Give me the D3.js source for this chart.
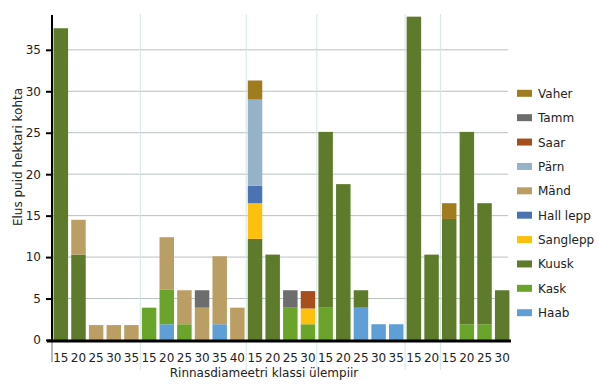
<!DOCTYPE html>
<html>
<head>
<meta charset="utf-8">
<script src="https://cdn.jsdelivr.net/npm/d3@7"></script>
<style>
  body { margin: 0; background: #fff; }
  svg { font-family: 'DejaVu Sans', sans-serif; }
</style>
</head>
<body>
<svg id="drawing_region"></svg>
<script>
// diameter class labels (one per bar) and how many bars go in each group
const diam_classes = ['15','20','25','30','35',
                      '15','20','25','30','35','40',
                      '15','20','25','30',
                      '15','20','25','30','35',
                      '15','20',
                      '15','20','25','30'];
const group_sizes = [5, 6, 4, 5, 2, 4];

// stack order, bottom to top
const species = ['Haab','Kask','Kuusk','Sanglepp','Hall lepp','Mänd','Pärn','Saar','Tamm','Vaher'];
const colors  = ['#609fd6','#6aa42b','#5e7b2b','#fdc00c','#4b73b4','#bb9e64','#95b2c8','#a74f1c','#6d6d6d','#a07c1e'];

const haab     = [0,0,0,0,0,     0,1.9,0,0,1.9,0,    0,0,0,0,         0,0,3.9,1.9,1.9,  0,0,     0,0,0,0];
const kask     = [0,0,0,0,0,     3.9,4.2,1.9,0,0,0,  0,0,3.9,1.9,     3.9,0,0,0,0,      0,0,     0,1.9,1.9,0];
const kuusk    = [37.6,10.3,0,0,0, 0,0,0,0,0,0,     12.2,10.3,0,0,   21.2,18.8,2.1,0,0, 39.0,10.3, 14.6,23.2,14.6,6.0];
const sanglepp = [0,0,0,0,0,     0,0,0,0,0,0,        4.3,0,0,1.9,     0,0,0,0,0,        0,0,     0,0,0,0];
const hall_lepp= [0,0,0,0,0,     0,0,0,0,0,0,        2.1,0,0,0,       0,0,0,0,0,        0,0,     0,0,0,0];
const mand     = [0,4.2,1.8,1.8,1.8, 0,6.3,4.1,3.9,8.2,3.9, 0,0,0,0,  0,0,0,0,0,        0,0,     0,0,0,0];
const parn     = [0,0,0,0,0,     0,0,0,0,0,0,        10.4,0,0,0,      0,0,0,0,0,        0,0,     0,0,0,0];
const saar     = [0,0,0,0,0,     0,0,0,0,0,0,        0,0,0,2.1,       0,0,0,0,0,        0,0,     0,0,0,0];
const tamm     = [0,0,0,0,0,     0,0,0,2.1,0,0,      0,0,2.1,0,       0,0,0,0,0,        0,0,     0,0,0,0];
const vaher    = [0,0,0,0,0,     0,0,0,0,0,0,        2.3,0,0,0,       0,0,0,0,0,        0,0,     1.9,0,0,0];

const y_ticks = [0, 5, 10, 15, 20, 25, 30, 35];

class StackedBarChart {
    constructor (config) {
        this.config = {
            parent: config.parent,
            width: config.width || 600,
            height: config.height || 390,
            margin: config.margin || {top:15, right:89, bottom:50, left:52},
            y_max: config.y_max || 40
        };
        this.init();
    }

    init() {
        let self = this;

        self.svg = d3.select(self.config.parent)
            .attr('width', self.config.width)
            .attr('height', self.config.height);

        self.x0 = self.config.margin.left;
        self.x1 = self.config.width - self.config.margin.right;
        self.y0 = self.config.height - self.config.margin.bottom;
        self.y1 = self.config.margin.top;

        self.keys = diam_classes.map((d, i) => i + '_' + d);

        self.xscale = d3.scaleBand()
            .domain(self.keys)
            .range([self.x0, self.x1])
            .paddingInner(0.18)
            .paddingOuter(0.09);

        self.yscale = d3.scaleLinear()
            .domain([0, self.config.y_max])
            .range([self.y0, self.y1]);

        self.cscale = d3.scaleOrdinal()
            .domain(species)
            .range(colors);
    }

    update() {
        let self = this;

        const series = [haab, kask, kuusk, sanglepp, hall_lepp, mand, parn, saar, tamm, vaher];
        self.table = self.keys.map((k, i) => {
            const row = {key: k, label: diam_classes[i]};
            species.forEach((s, j) => row[s] = series[j][i]);
            return row;
        });

        self.stacked = d3.stack().keys(species)(self.table);
        self.render();
    }

    render() {
        let self = this;
        const gap = (self.xscale.step() - self.xscale.bandwidth()) / 2;

        // gridlines
        self.svg.append('g')
            .selectAll('line')
            .data(y_ticks.filter(d => d > 0))
            .join('line')
            .attr('x1', self.x0)
            .attr('x2', self.x1 - 3)
            .attr('y1', d => self.yscale(d))
            .attr('y2', d => self.yscale(d))
            .attr('stroke', '#b9c1c1')
            .attr('stroke-width', 1);

        // group separators
        let starts = [];
        let idx = 0;
        group_sizes.forEach(n => { starts.push(idx); idx += n; });
        self.svg.append('g')
            .selectAll('line')
            .data(starts.slice(1))
            .join('line')
            .attr('x1', d => self.xscale(self.keys[d]) - gap)
            .attr('x2', d => self.xscale(self.keys[d]) - gap)
            .attr('y1', self.y1 - 1)
            .attr('y2', self.y0 + 30)
            .attr('stroke', '#d3e6e8')
            .attr('stroke-width', 1);

        self.svg.append('line')
            .attr('x1', self.x0).attr('x2', self.x0)
            .attr('y1', self.y0).attr('y2', self.y0 + 22)
            .attr('stroke', '#a0a0a0')
            .attr('stroke-width', 1.5);

        // bars
        self.svg.append('g')
            .selectAll('g')
            .data(self.stacked)
            .join('g')
            .attr('fill', d => self.cscale(d.key))
            .selectAll('rect')
            .data(d => d.filter(e => e[1] - e[0] > 0))
            .join('rect')
            .attr('x', d => self.xscale(d.data.key))
            .attr('width', self.xscale.bandwidth())
            .attr('y', d => self.yscale(d[1]))
            .attr('height', d => self.yscale(d[0]) - self.yscale(d[1]));

        // y axis
        const yaxis = self.svg.append('g')
            .attr('transform', `translate(${self.x0},0)`)
            .call(d3.axisLeft(self.yscale).tickValues(y_ticks).tickSize(6).tickPadding(5));
        yaxis.select('.domain').remove();
        yaxis.selectAll('.tick line').attr('stroke', '#000').attr('stroke-width', 2);
        yaxis.selectAll('.tick text')
            .style('font-size', '12px')
            .style('font-family', 'DejaVu Sans')
            .attr('fill', '#222');
        self.svg.append('line')
            .attr('x1', self.x0).attr('x2', self.x0)
            .attr('y1', self.y1).attr('y2', self.y0)
            .attr('stroke', '#000')
            .attr('stroke-width', 2);

        // x axis line
        self.svg.append('line')
            .attr('x1', self.x0 - 5).attr('x2', self.x1)
            .attr('y1', self.y0 + 1).attr('y2', self.y0 + 1)
            .attr('stroke', '#000')
            .attr('stroke-width', 3);

        // x tick labels
        self.svg.append('g')
            .selectAll('text')
            .data(self.table)
            .join('text')
            .attr('x', d => self.xscale(d.key) + self.xscale.bandwidth() / 2)
            .attr('y', self.y0 + 22)
            .attr('text-anchor', 'middle')
            .style('font-size', '12px')
            .attr('fill', '#222')
            .text(d => d.label);

        // axis titles
        self.svg.append('text')
            .attr('x', 264)
            .attr('y', 377)
            .attr('text-anchor', 'middle')
            .style('font-size', '12px')
            .attr('fill', '#222')
            .text('Rinnasdiameetri klassi ülempiir');

        self.svg.append('text')
            .attr('transform', 'translate(22,157) rotate(-90)')
            .attr('text-anchor', 'middle')
            .style('font-size', '12px')
            .attr('fill', '#222')
            .text('Elus puid hektari kohta');

        // legend
        const lscale = d3.scalePoint()
            .domain(species.slice().reverse())
            .range([93.3, 312.7]);

        const legend = self.svg.append('g')
            .selectAll('g')
            .data(lscale.domain())
            .join('g')
            .attr('transform', d => `translate(517,${lscale(d)})`);

        legend.append('rect')
            .attr('x', 0)
            .attr('y', -3.5)
            .attr('width', 15)
            .attr('height', 7)
            .attr('fill', d => self.cscale(d));

        legend.append('text')
            .attr('x', 21)
            .attr('y', 4.5)
            .style('font-size', '12px')
            .attr('fill', '#222')
            .text(d => d);
    }
}

let chart = new StackedBarChart({
    parent: '#drawing_region',
    width: 600,
    height: 390,
    margin: {top:15, right:89, bottom:50, left:52},
    y_max: 39.2
});
chart.update();
</script>
</body>
</html>
